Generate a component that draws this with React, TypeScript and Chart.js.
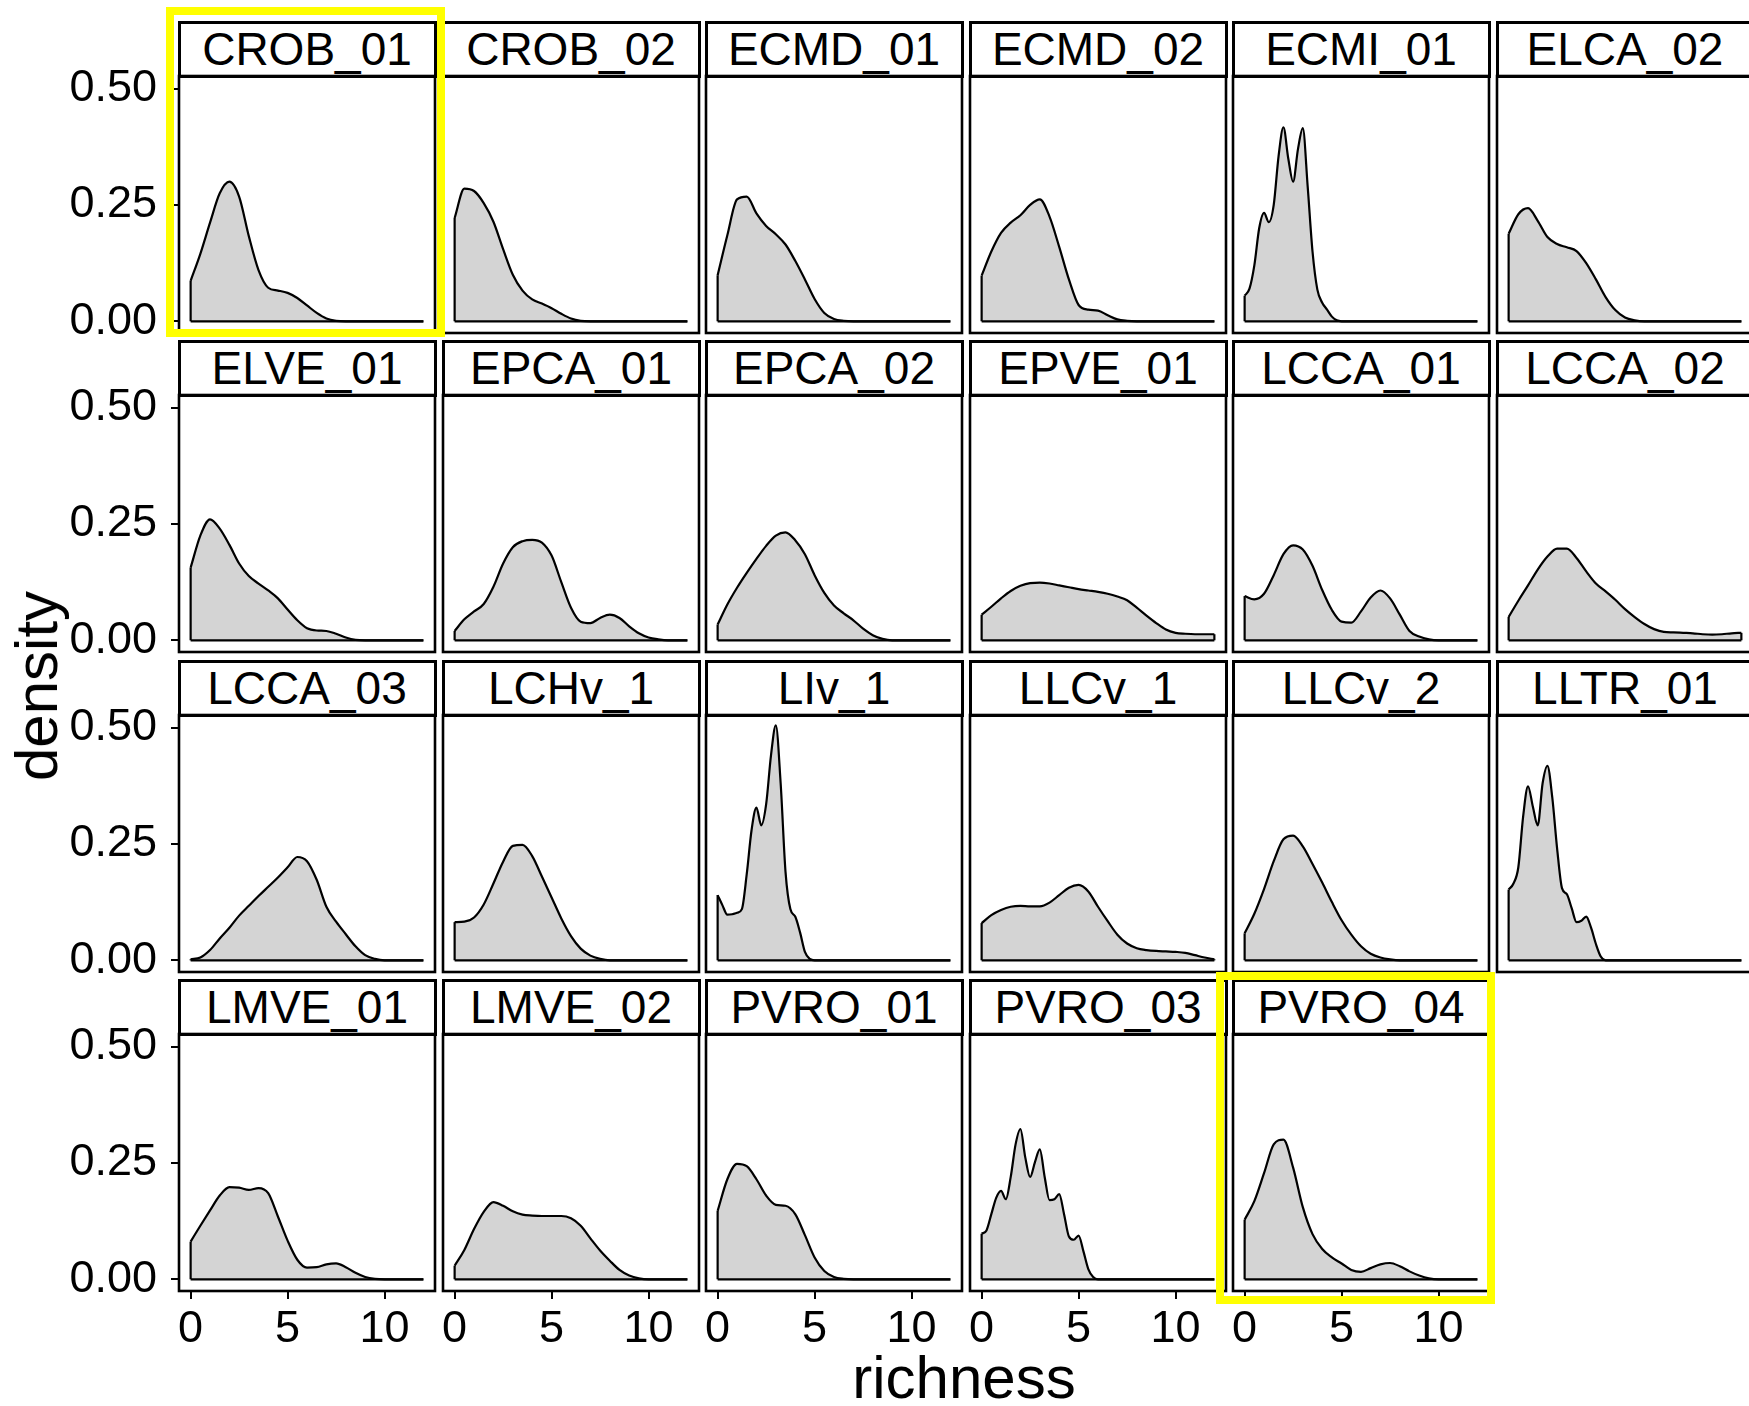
import React, { useEffect, useRef } from 'react';
import { Chart, registerables } from 'chart.js';

Chart.register(...registerables);

// ---------------- data ----------------
const panelNames = [
  'CROB_01', 'CROB_02', 'ECMD_01', 'ECMD_02', 'ECMI_01', 'ELCA_02',
  'ELVE_01', 'EPCA_01', 'EPCA_02', 'EPVE_01', 'LCCA_01', 'LCCA_02',
  'LCCA_03', 'LCHv_1', 'LIv_1', 'LLCv_1', 'LLCv_2', 'LLTR_01',
  'LMVE_01', 'LMVE_02', 'PVRO_01', 'PVRO_03', 'PVRO_04',
];

// richness grid (0..12 step 0.5)
const gridCoarse = [0, 0.5, 1, 1.5, 2, 2.5, 3, 3.5, 4, 4.5, 5, 5.5, 6, 6.5, 7, 7.5, 8, 8.5, 9, 9.5, 10, 10.5, 11, 11.5, 12];
// finer richness grid for the spiky panels
const gridFine = [0, 0.25, 0.5, 0.75, 1, 1.25, 1.5, 1.75, 2, 2.25, 2.5, 2.75, 3, 3.25, 3.5, 3.75, 4, 4.25, 4.5, 4.75, 5, 5.25, 5.5, 5.75, 6, 6.5, 7, 7.5, 8, 8.5, 9, 9.5, 10, 10.5, 11, 11.5, 12];
const fineGridPanels = ['ECMI_01', 'LIv_1', 'LLTR_01', 'PVRO_03'];

const CROB_01 = [0.087, 0.145, 0.212, 0.275, 0.300, 0.268, 0.183, 0.110, 0.072, 0.066, 0.061, 0.050, 0.034, 0.018, 0.006, 0.001, 0, 0, 0, 0, 0, 0, 0, 0, 0];
const CROB_02 = [0.222, 0.285, 0.280, 0.254, 0.214, 0.155, 0.100, 0.066, 0.047, 0.038, 0.028, 0.016, 0.006, 0.001, 0, 0, 0, 0, 0, 0, 0, 0, 0, 0, 0];
const ECMD_01 = [0.099, 0.185, 0.262, 0.268, 0.232, 0.205, 0.187, 0.165, 0.130, 0.090, 0.048, 0.018, 0.005, 0.001, 0, 0, 0, 0, 0, 0, 0, 0, 0, 0, 0];
const ECMD_02 = [0.098, 0.150, 0.190, 0.212, 0.228, 0.250, 0.262, 0.225, 0.160, 0.090, 0.035, 0.025, 0.023, 0.013, 0.004, 0.001, 0, 0, 0, 0, 0, 0, 0, 0, 0];
const ECMI_01 = [0.055, 0.070, 0.120, 0.200, 0.233, 0.213, 0.250, 0.355, 0.417, 0.350, 0.300, 0.370, 0.415, 0.290, 0.150, 0.068, 0.040, 0.025, 0.010, 0.002, 0, 0, 0, 0, 0, 0, 0, 0, 0, 0, 0, 0, 0, 0, 0, 0, 0];
const ELCA_02 = [0.188, 0.230, 0.243, 0.216, 0.181, 0.166, 0.159, 0.151, 0.125, 0.090, 0.052, 0.024, 0.008, 0.002, 0, 0, 0, 0, 0, 0, 0, 0, 0, 0, 0];
const ELVE_01 = [0.156, 0.225, 0.260, 0.240, 0.205, 0.165, 0.138, 0.122, 0.107, 0.090, 0.066, 0.043, 0.026, 0.021, 0.020, 0.014, 0.006, 0.001, 0, 0, 0, 0, 0, 0, 0];
const EPCA_01 = [0.020, 0.045, 0.062, 0.078, 0.115, 0.165, 0.200, 0.213, 0.216, 0.210, 0.182, 0.125, 0.070, 0.040, 0.037, 0.048, 0.055, 0.048, 0.030, 0.015, 0.006, 0.002, 0, 0, 0];
const EPCA_02 = [0.034, 0.077, 0.113, 0.145, 0.175, 0.203, 0.225, 0.232, 0.215, 0.185, 0.140, 0.102, 0.075, 0.058, 0.043, 0.025, 0.011, 0.003, 0, 0, 0, 0, 0, 0, 0];
const EPVE_01 = [0.055, 0.072, 0.090, 0.106, 0.117, 0.123, 0.124, 0.122, 0.118, 0.114, 0.110, 0.107, 0.104, 0.100, 0.094, 0.086, 0.070, 0.053, 0.037, 0.023, 0.016, 0.014, 0.013, 0.013, 0.013];
const LCCA_01 = [0.095, 0.088, 0.100, 0.140, 0.185, 0.204, 0.195, 0.160, 0.108, 0.065, 0.040, 0.038, 0.062, 0.092, 0.107, 0.090, 0.055, 0.020, 0.008, 0.002, 0, 0, 0, 0, 0];
const LCCA_02 = [0.050, 0.085, 0.118, 0.152, 0.180, 0.197, 0.197, 0.177, 0.148, 0.122, 0.105, 0.087, 0.067, 0.050, 0.035, 0.024, 0.018, 0.017, 0.016, 0.015, 0.013, 0.012, 0.013, 0.015, 0.016];
const LCCA_03 = [0.002, 0.006, 0.022, 0.047, 0.070, 0.096, 0.117, 0.138, 0.158, 0.178, 0.200, 0.222, 0.213, 0.173, 0.115, 0.083, 0.056, 0.030, 0.011, 0.003, 0, 0, 0, 0, 0];
const LCHv_1 = [0.082, 0.083, 0.092, 0.120, 0.165, 0.212, 0.246, 0.248, 0.224, 0.180, 0.135, 0.090, 0.052, 0.025, 0.010, 0.003, 0, 0, 0, 0, 0, 0, 0, 0, 0];
const LIv_1 = [0.140, 0.118, 0.098, 0.099, 0.102, 0.110, 0.185, 0.280, 0.328, 0.290, 0.335, 0.440, 0.505, 0.380, 0.190, 0.110, 0.094, 0.060, 0.018, 0.003, 0, 0, 0, 0, 0, 0, 0, 0, 0, 0, 0, 0, 0, 0, 0, 0, 0];
const LLCv_1 = [0.080, 0.097, 0.108, 0.115, 0.117, 0.116, 0.116, 0.124, 0.140, 0.156, 0.162, 0.148, 0.115, 0.084, 0.055, 0.036, 0.026, 0.022, 0.020, 0.019, 0.018, 0.016, 0.011, 0.006, 0.002];
const LLCv_2 = [0.058, 0.100, 0.153, 0.213, 0.260, 0.268, 0.245, 0.207, 0.167, 0.125, 0.086, 0.055, 0.030, 0.014, 0.006, 0.002, 0, 0, 0, 0, 0, 0, 0, 0, 0];
const LLTR_01 = [0.152, 0.165, 0.200, 0.310, 0.374, 0.330, 0.290, 0.380, 0.418, 0.350, 0.240, 0.155, 0.142, 0.112, 0.082, 0.085, 0.094, 0.070, 0.035, 0.008, 0, 0, 0, 0, 0, 0, 0, 0, 0, 0, 0, 0, 0, 0, 0, 0, 0];
const LMVE_01 = [0.081, 0.115, 0.148, 0.180, 0.198, 0.197, 0.192, 0.196, 0.185, 0.135, 0.083, 0.042, 0.025, 0.026, 0.032, 0.034, 0.026, 0.014, 0.005, 0.001, 0, 0, 0, 0, 0];
const LMVE_02 = [0.029, 0.063, 0.108, 0.145, 0.166, 0.158, 0.146, 0.139, 0.137, 0.136, 0.136, 0.136, 0.131, 0.115, 0.088, 0.062, 0.040, 0.020, 0.008, 0.002, 0, 0, 0, 0, 0];
const PVRO_01 = [0.147, 0.215, 0.248, 0.243, 0.215, 0.180, 0.160, 0.158, 0.140, 0.095, 0.047, 0.018, 0.005, 0.001, 0, 0, 0, 0, 0, 0, 0, 0, 0, 0, 0];
const PVRO_03 = [0.098, 0.105, 0.140, 0.175, 0.190, 0.172, 0.220, 0.290, 0.323, 0.262, 0.220, 0.252, 0.279, 0.220, 0.170, 0.172, 0.183, 0.140, 0.092, 0.085, 0.094, 0.060, 0.022, 0.005, 0, 0, 0, 0, 0, 0, 0, 0, 0, 0, 0, 0, 0];
const PVRO_04 = [0.128, 0.168, 0.228, 0.290, 0.300, 0.240, 0.155, 0.097, 0.065, 0.047, 0.034, 0.020, 0.016, 0.024, 0.032, 0.035, 0.028, 0.017, 0.008, 0.002, 0, 0, 0, 0, 0];

const densityByPanel: Record<string, number[]> = {
  CROB_01, CROB_02, ECMD_01, ECMD_02, ECMI_01, ELCA_02,
  ELVE_01, EPCA_01, EPCA_02, EPVE_01, LCCA_01, LCCA_02,
  LCCA_03, LCHv_1, LIv_1, LLCv_1, LLCv_2, LLTR_01,
  LMVE_01, LMVE_02, PVRO_01, PVRO_03, PVRO_04,
};

const xTickValues = [0, 5, 10];
const xTickLabels = ['0', '5', '10'];
const yTickValues = [0, 0.25, 0.5];
const yTickLabels = ['0.00', '0.25', '0.50'];
const xTitle = 'richness';
const yTitle = 'density';
const highlighted = ['CROB_01', 'PVRO_04'];

// ---------------- layout / style ----------------
const FONT = '"Liberation Sans", Arial, Helvetica, sans-serif';
const NCOL = 6;
const NROW = 4;
const PLOT_LEFT0 = 179;
const COL_PITCH = 263.5;
const PLOT_W = 256;
const PLOT_TOP0 = 75.5;
const ROW_PITCH = 319.6;
const PLOT_H = 257;
const STRIP_H = 54;
const M = 20;
const Y_AXIS_W = 175;
const X_AXIS_H = 72;
const X_MIN = -0.6;
const X_MAX = 12.6;
const Y_MIN = -0.0252;
const Y_MAX = 0.5272;
const TICK_FONT = 45;
const STRIP_FONT = 46;
const TITLE_FONT = 60;
const LINE_W = 2.2;
const FILL = '#d4d4d4';
const highlightBoxes: Record<string, { left: number; top: number; width: number; height: number }> = {
  CROB_01: { left: 166, top: 7, width: 279, height: 330 },
  PVRO_04: { left: 1216, top: 972, width: 279, height: 332 },
};

const panelBorder = {
  id: 'panelBorder',
  afterDraw(chart: any) {
    const { ctx, chartArea } = chart;
    const { left, top, right, bottom } = chartArea;
    ctx.save();
    ctx.strokeStyle = '#000';
    ctx.lineWidth = 2.6;
    ctx.strokeRect(left, top, right - left, bottom - top);
    ctx.restore();
  },
};

function panelGeom(index: number) {
  const col = index % NCOL;
  const row = Math.floor(index / NCOL);
  const plotLeft = Math.round(PLOT_LEFT0 + COL_PITCH * col);
  const plotTop = Math.round(PLOT_TOP0 + ROW_PITCH * row);
  return { col, row, plotLeft, plotTop };
}

function Panel({ index }: { index: number }) {
  const ref = useRef<HTMLCanvasElement | null>(null);
  const { col, row, plotLeft, plotTop } = panelGeom(index);
  const showY = col === 0;
  const showX = row === NROW - 1;
  const yW = showY ? Y_AXIS_W : 0;
  const xH = showX ? X_AXIS_H : 0;
  const cw = PLOT_W + yW + 2 * M;
  const ch = PLOT_H + xH + 2 * M;
  const cl = plotLeft - yW - M;
  const ct = plotTop - M;

  useEffect(() => {
    const name = panelNames[index];
    const xs = fineGridPanels.includes(name) ? gridFine : gridCoarse;
    const ys = densityByPanel[name];
    const last = xs.length - 1;
    const edge = (pts: any[]) => ({
      data: pts,
      borderColor: '#000',
      borderWidth: LINE_W,
      pointRadius: 0,
      fill: false,
      tension: 0,
      order: 0,
    });
    const zeroPad = (s: any) => {
      s.paddingLeft = 0;
      s.paddingRight = 0;
      s.paddingTop = 0;
      s.paddingBottom = 0;
    };
    const chart = new Chart(ref.current as HTMLCanvasElement, {
      type: 'line',
      data: {
        datasets: [
          {
            data: xs.map((x, k) => ({ x, y: ys[k] })),
            borderColor: '#000',
            borderWidth: LINE_W,
            backgroundColor: FILL,
            fill: 'origin',
            pointRadius: 0,
            cubicInterpolationMode: 'monotone',
            borderJoinStyle: 'round',
            order: 1,
          },
          edge([{ x: xs[0], y: 0 }, { x: xs[0], y: ys[0] }]),
          edge([{ x: xs[0], y: 0 }, { x: xs[last], y: 0 }]),
          edge([{ x: xs[last], y: 0 }, { x: xs[last], y: ys[last] }]),
        ],
      } as any,
      options: {
        animation: false,
        responsive: false,
        maintainAspectRatio: false,
        events: [],
        layout: { padding: M },
        plugins: {
          legend: { display: false },
          tooltip: { enabled: false },
          title: { display: false },
        },
        scales: {
          x: {
            type: 'linear',
            position: 'bottom',
            min: X_MIN,
            max: X_MAX,
            display: showX,
            afterBuildTicks: (s: any) => {
              s.ticks = xTickValues.map((v) => ({ value: v }));
            },
            afterFit: (s: any) => {
              if (showX) s.height = X_AXIS_H;
              zeroPad(s);
            },
            ticks: {
              color: '#000',
              font: { size: TICK_FONT, family: FONT },
              padding: 4,
              maxRotation: 0,
              autoSkip: false,
              callback: (_v: any, i: number) => xTickLabels[i],
            },
            grid: {
              display: true,
              drawOnChartArea: false,
              drawTicks: true,
              tickLength: 8,
              color: '#000',
              lineWidth: 2,
            },
            border: { display: false },
          },
          y: {
            type: 'linear',
            position: 'left',
            min: Y_MIN,
            max: Y_MAX,
            display: showY,
            afterBuildTicks: (s: any) => {
              s.ticks = yTickValues.map((v) => ({ value: v }));
            },
            afterFit: (s: any) => {
              if (showY) s.width = Y_AXIS_W;
              zeroPad(s);
            },
            ticks: {
              color: '#000',
              font: { size: TICK_FONT, family: FONT },
              padding: 14,
              autoSkip: false,
              callback: (_v: any, i: number) => yTickLabels[i],
            },
            grid: {
              display: true,
              drawOnChartArea: false,
              drawTicks: true,
              tickLength: 8,
              color: '#000',
              lineWidth: 2,
            },
            border: { display: false },
          },
        },
      } as any,
      plugins: [panelBorder],
    });
    return () => chart.destroy();
  }, []);

  return (
    <canvas
      ref={ref}
      width={cw}
      height={ch}
      style={{ position: 'absolute', left: cl, top: ct, width: cw, height: ch }}
    />
  );
}

function Strip({ index }: { index: number }) {
  const { plotLeft, plotTop } = panelGeom(index);
  return (
    <div
      style={{
        position: 'absolute',
        left: plotLeft - 1.5,
        top: plotTop - STRIP_H - 1.5,
        width: PLOT_W + 3,
        height: STRIP_H + 3,
        boxSizing: 'border-box',
        border: '3px solid #000',
        background: '#fff',
        display: 'flex',
        alignItems: 'center',
        justifyContent: 'center',
        fontFamily: FONT,
        fontSize: STRIP_FONT,
        color: '#000',
        lineHeight: 1,
        whiteSpace: 'nowrap',
      }}
    >
      {panelNames[index]}
    </div>
  );
}

export default function App() {
  return (
    <div
      style={{
        position: 'absolute',
        left: 0,
        top: 0,
        width: 1749,
        height: 1406,
        overflow: 'hidden',
        background: '#fff',
        fontFamily: FONT,
      }}
    >
      {panelNames.map((_, i) => (
        <Strip key={'s' + i} index={i} />
      ))}
      {panelNames.map((_, i) => (
        <Panel key={'p' + i} index={i} />
      ))}
      <div
        style={{
          position: 'absolute',
          left: 37,
          top: 686,
          transform: 'translate(-50%, -50%) rotate(-90deg)',
          fontSize: TITLE_FONT,
          lineHeight: `${TITLE_FONT}px`,
          color: '#000',
          whiteSpace: 'nowrap',
        }}
      >
        {yTitle}
      </div>
      <div
        style={{
          position: 'absolute',
          left: 964,
          top: 1348,
          transform: 'translateX(-50%)',
          fontSize: TITLE_FONT,
          lineHeight: `${TITLE_FONT}px`,
          color: '#000',
          whiteSpace: 'nowrap',
        }}
      >
        {xTitle}
      </div>
      {highlighted.map((name) => {
        const b = highlightBoxes[name];
        return (
          <div
            key={'h' + name}
            style={{
              position: 'absolute',
              left: b.left,
              top: b.top,
              width: b.width,
              height: b.height,
              boxSizing: 'border-box',
              border: '8px solid #ffff00',
              zIndex: 5,
            }}
          />
        );
      })}
    </div>
  );
}
